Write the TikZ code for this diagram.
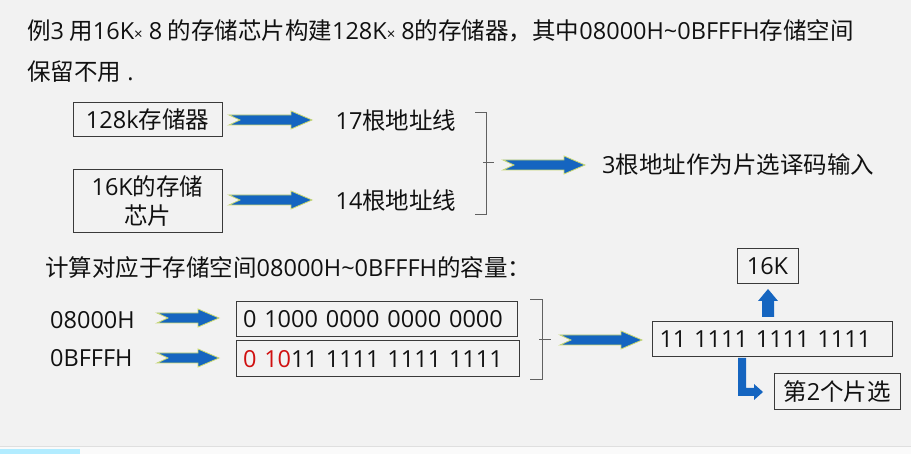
\documentclass[tikz,border=0pt]{standalone}
\usepackage{fontspec}
\setmainfont{Noto Sans CJK SC}
\newfontfamily\latf{Open Sans}
\newcommand\en[1]{{\latf #1}}
\definecolor{bg}{HTML}{F2F2F2}
\definecolor{arrowblue}{HTML}{1565C0}
\definecolor{arrowedge}{HTML}{C8D870}
\definecolor{boxline}{HTML}{3A3A3A}
\definecolor{txt}{HTML}{111111}
\definecolor{redtxt}{HTML}{D01010}
\newcommand\hbarrow[2]{%
  \filldraw[barrow] (#1) ++(0,-5) -- ++({#2-21},0) -- ++(0,-4) -- ++(21,9) -- ++(-21,9) -- ++(0,-4) -- ++({-(#2-21)},0) -- ++(11,-5) -- cycle;}
\tikzset{
  barrow/.style={fill=arrowblue, draw=arrowedge, line width=0.8pt},
  sarrow/.style={fill=arrowblue, draw=none},
  txtbox/.style={draw=boxline, line width=1pt, inner sep=0pt, text=txt},
  lbl/.style={inner sep=0pt, text=txt},
  brk/.style={draw=boxline!80, line width=1pt},
}
\begin{document}
\begin{tikzpicture}[x=1pt,y=-1pt, font=\fontsize{23.5}{27}\selectfont]
\useasboundingbox (0,0) rectangle (911,454);
\fill[bg] (0,0) rectangle (911,454);
\fill[white!60!bg] (0,446) rectangle (911,454);
\draw[gray!25, line width=0.8pt] (0,446) -- (911,446);
\fill[blue!25!cyan!30] (0,449) rectangle (80,454);

% title
\node[lbl, anchor=west] (title1) at (27,31) {例\en{3} 用\en{16K{\fontsize{15}{16}\selectfont ×} 8} 的存储芯片构建\en{128K{\fontsize{15}{16}\selectfont ×} 8}的存储器，其中\en{08000H\textasciitilde 0BFFFH}存储空间};
\node[lbl, anchor=west] (title2) at (27,72) {保留不用\en{ .}};

% upper part
\node[txtbox, minimum width=149pt, minimum height=34pt] (b128) at (147.5,120) {\en{128k}存储器};
\node[txtbox, minimum width=149pt, minimum height=63pt, align=center, font=\fontsize{23.5}{29}\selectfont] (b16) at (147.5,201.5) {\en{16K}的存储\\芯片};
\node[lbl] (t17) at (396,121) {\en{17}根地址线};
\node[lbl] (t14) at (396,201) {\en{14}根地址线};
\node[lbl, anchor=west] (t3) at (602,165) {\en{3}根地址作为片选译码输入};

\coordinate (a1) at (229,120);
\coordinate (a2) at (229,200);
\coordinate (a3) at (503,165);
\hbarrow{a1}{83}
\hbarrow{a2}{83}
\hbarrow{a3}{82}

\draw[brk] (475,113) -- (486,113) -- (486,215) -- (475,215);
\draw[brk] (483,163) -- (494,163);

% lower part
\node[lbl, anchor=west] (calc) at (45,268) {计算对应于存储空间\en{08000H\textasciitilde 0BFFFH}的容量：};
\node[lbl, anchor=west] (h1) at (50,320) {\en{08000H}};
\node[lbl, anchor=west] (h2) at (50,358) {\en{0BFFFH}};
\node[txtbox, minimum width=281pt, minimum height=35pt, text width=267pt, align=left] (binA) at (376.5,319.5) {\en{0 1000 0000 0000 0000}};
\node[txtbox, minimum width=283pt, minimum height=36pt, text width=269pt, align=left] (binB) at (377.5,359) {\en{\textcolor{redtxt}{0 10}11 1111 1111 1111}};

\coordinate (a4) at (157,318);
\coordinate (a5) at (157,358);
\coordinate (a6) at (560,340);
\hbarrow{a4}{62}
\hbarrow{a5}{62}
\hbarrow{a6}{82}

\draw[brk] (530,300) -- (542,300) -- (542,380) -- (530,380);
\draw[brk] (539,340) -- (551,340);

\node[txtbox, minimum width=240pt, minimum height=35pt, text width=225pt, align=left] (bres) at (772,339.5) {\en{11 1111 1111 1111}};
\node[txtbox, minimum width=61pt, minimum height=35pt] (b16K) at (767.5,266.5) {\en{16K}};
\node[txtbox, minimum width=126pt, minimum height=36pt] (bsel) at (837,392) {第\en{2}个片选};

% up arrow
\fill[sarrow] (762,317) -- (774,317) -- (774,301) -- (778,301) -- (768,289) -- (758,301) -- (762,301) -- cycle;
% L arrow
\fill[sarrow] (738,358) -- (746,358) -- (746,388) -- (754,388) -- (754,384) -- (763,392) -- (754,400) -- (754,396) -- (738,396) -- cycle;
\end{tikzpicture}
\end{document}
